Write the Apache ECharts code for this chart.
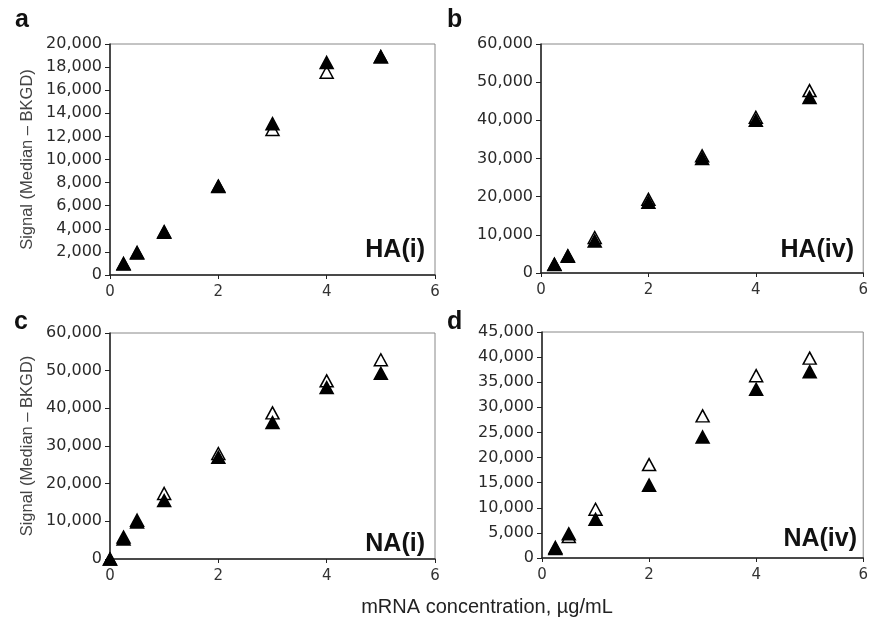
<!DOCTYPE html>
<html>
<head>
<meta charset="utf-8">
<script src="https://cdn.jsdelivr.net/npm/echarts@6/dist/echarts.min.js"></script>
<style>
  html, body { margin: 0; padding: 0; background: #fff; }
  #main { width: 871px; height: 619px; }
</style>
</head>
<body>
<div id="main"></div>
<script>
// mRNA concentration (µg/mL)
const concA = [0.25, 0.5, 1, 2, 3, 4, 5];
const concB = [0.25, 0.5, 1, 2, 3, 4, 5];
const concC = [0, 0.25, 0.5, 1, 2, 3, 4, 5];
const concD = [0.25, 0.5, 1, 2, 3, 4, 5];

// HA(i)
const haiFilled = [1000, 1950, 3750, 7700, 13100, 18400, 18900];
const haiOpen   = [950, 1900, 3700, 7650, 12600, 17550, 18900];
// HA(iv)
const haivFilled = [2200, 4500, 8400, 18500, 30000, 40000, 46000];
const haivOpen   = [2300, 4400, 9300, 19300, 30700, 40800, 47800];
// NA(i)
const naiFilled = [0, 5300, 9800, 15500, 27000, 36200, 45500, 49300];
const naiOpen   = [0, 5800, 10300, 17400, 28000, 38800, 47300, 52900];
// NA(iv)
const naivFilled = [2100, 4800, 7700, 14500, 24100, 33600, 37100];
const naivOpen   = [1900, 4300, 9700, 18600, 28300, 36300, 39800];

// y axis ranges per panel [max, interval]
const yRanges = [[20000, 2000], [60000, 10000], [60000, 10000], [45000, 5000]];

const pair = (xs, ys) => xs.map((x, i) => [x, ys[i]]);

const font = 'DejaVu Sans';
const grids = [
  { left: 110, top: 44, width: 325, height: 231 },
  { left: 541, top: 44, width: 323, height: 229 },
  { left: 110, top: 333, width: 325, height: 226 },
  { left: 542, top: 332, width: 325, height: 226 }
].map(g => Object.assign(g, { show: true, borderColor: '#888', borderWidth: 1, backgroundColor: 'transparent' }));

const xAxes = grids.map((g, i) => ({
  type: 'value',
  gridIndex: i,
  min: 0,
  max: 6,
  interval: 2,
  axisLine: { lineStyle: { color: '#222', width: 1.5 } },
  axisTick: { show: true, length: 4, lineStyle: { color: '#222' } },
  axisLabel: { color: '#333', fontSize: 15, fontFamily: font, margin: 10 },
  splitLine: { show: false }
}));

const yAxes = grids.map((g, i) => ({
  type: 'value',
  gridIndex: i,
  min: 0,
  max: yRanges[i][0],
  interval: yRanges[i][1],
  axisLine: { show: true, lineStyle: { color: '#222', width: 1.5 } },
  axisTick: { show: true, length: 5, lineStyle: { color: '#222' } },
  axisLabel: {
    color: '#2a2a2a', fontSize: 16, fontFamily: font, margin: 8,
    formatter: v => v.toLocaleString('en-US')
  },
  splitLine: { show: false },
  name: (i === 0 || i === 2) ? 'Signal (Median \u2013 BKGD)' : '',
  nameLocation: 'middle',
  nameRotate: 90,
  nameGap: 74,
  nameTextStyle: { color: '#444', fontSize: 16.5, fontFamily: 'Liberation Sans' }
}));

const openStyle = { color: '#fff', borderColor: '#000', borderWidth: 1.5, opacity: 1 };
const fillStyle = { color: '#000', borderColor: '#000', borderWidth: 1.5, opacity: 1 };
function mk(idx, data, filled) {
  return {
    type: 'scatter',
    xAxisIndex: idx,
    yAxisIndex: idx,
    symbol: 'triangle',
    symbolSize: [13, 12],
    data: data,
    itemStyle: filled ? fillStyle : openStyle,
    z: filled ? 3 : 2,
    emphasis: { disabled: true }
  };
}

const series = [
  mk(0, pair(concA, haiOpen), false), mk(0, pair(concA, haiFilled), true),
  mk(1, pair(concB, haivOpen), false), mk(1, pair(concB, haivFilled), true),
  mk(2, pair(concC, naiOpen), false), mk(2, pair(concC, naiFilled), true),
  mk(3, pair(concD, naivOpen), false), mk(3, pair(concD, naivFilled), true)
];

function txt(text, x, y, size, align, bold) {
  return {
    type: 'text', x: x, y: y, z: 10,
    style: {
      text: text, fill: '#111', align: align, verticalAlign: 'middle',
      font: (bold ? 'bold ' : '') + size + 'px "Liberation Sans", Arial, sans-serif'
    }
  };
}

const chart = echarts.init(document.getElementById('main'));
chart.setOption({
  animation: false,
  grid: grids,
  xAxis: xAxes,
  yAxis: yAxes,
  series: series,
  graphic: [
    txt('a', 15, 20, 25, 'left', true),
    txt('b', 447, 20, 25, 'left', true),
    txt('c', 14, 322, 25, 'left', true),
    txt('d', 447, 322, 25, 'left', true),
    txt('HA(i)', 425, 250, 25, 'right', true),
    txt('HA(iv)', 854, 250, 25, 'right', true),
    txt('NA(i)', 425, 544, 25, 'right', true),
    txt('NA(iv)', 857, 539, 25, 'right', true),
    {
      type: 'text', x: 487, y: 607, z: 10,
      style: {
        text: 'mRNA concentration, \u00b5g/mL', fill: '#222', align: 'center', verticalAlign: 'middle',
        font: '20px "Liberation Sans", Arial, sans-serif'
      }
    }
  ]
});
</script>
</body>
</html>
